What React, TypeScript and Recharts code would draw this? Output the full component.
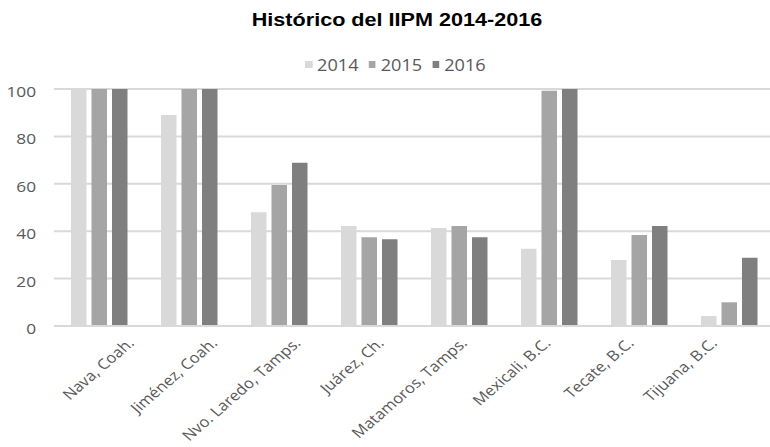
import { BarChart, Bar, XAxis, YAxis, CartesianGrid } from 'recharts';

const cities = [
    'Nava, Coah.',
    'Jiménez, Coah.',
    'Nvo. Laredo, Tamps.',
    'Juárez, Ch.',
    'Matamoros, Tamps.',
    'Mexicali, B.C.',
    'Tecate, B.C.',
    'Tijuana, B.C.'
];
const years = ['2014', '2015', '2016'];
const v2014 = [100, 89, 48, 42.2, 41.3, 32.6, 27.8, 4.2];
const v2015 = [100, 100, 59.5, 37.5, 42.2, 99.3, 38.4, 10];
const v2016 = [100, 100, 68.9, 36.6, 37.5, 100, 42.2, 28.8];
const yTicks = [0, 20, 40, 60, 80, 100];

const colors = ['#d9d9d9', '#a5a5a5', '#7f7f7f'];

const data = cities.map((name, i) => ({
    name,
    '2014': v2014[i],
    '2015': v2015[i],
    '2016': v2016[i]
}));

const textColor = '#595959';
const font = '"Open Sans", "Noto Sans", sans-serif';
// the reference is a bit stretched horizontally
const stretch = 1.15;

// rotated category label; labels drift a little left of their bars going right
function CityTick(props: any) {
    const { x, y, payload, index } = props;
    const i = index ?? payload.index ?? 0;
    const shift = 36 - 6.7 * i;
    return (
        <g transform={`translate(${x + shift},${y + 18}) scale(${stretch},1) rotate(-45)`}>
            <text textAnchor="end" fill={textColor} fontSize={14.5} fontFamily={font}>
                {payload.value}
            </text>
        </g>
    );
}

function ValueTick(props: any) {
    const { x, y, payload } = props;
    return (
        <g transform={`translate(${x},${y + 8}) scale(${stretch},1)`}>
            <text textAnchor="end" fill={textColor} fontSize={15} fontFamily={font}>
                {payload.value}
            </text>
        </g>
    );
}

function App() {
    return (
        <div style={{ position: 'absolute', left: 0, top: 0, width: 770, height: 447, overflow: 'hidden', background: '#fff' }}>
            <div style={{
                position: 'absolute',
                top: 11,
                left: 0,
                width: 794,
                textAlign: 'center',
                fontFamily: '"Liberation Sans", Arial, sans-serif',
                fontWeight: 700,
                fontSize: 18,
                lineHeight: '18px',
                color: '#000',
                transform: 'scaleX(1.2)',
                transformOrigin: '397px 0'
            }}>
                Histórico del IIPM 2014-2016
            </div>
            <div style={{
                position: 'absolute',
                top: 57,
                left: 305,
                display: 'flex',
                alignItems: 'center',
                fontFamily: font,
                fontSize: 16.5,
                lineHeight: '16.5px',
                color: textColor,
                transform: 'scaleX(1.1)',
                transformOrigin: '0 0',
                whiteSpace: 'nowrap'
            }}>
                {years.map((y, i) => (
                    <div key={y} style={{ display: 'flex', alignItems: 'center', marginRight: 9 }}>
                        <span style={{ width: 6.5, height: 7, background: colors[i], marginRight: 4.5, marginTop: -2 }} />
                        <span>{y}</span>
                    </div>
                ))}
            </div>
            <BarChart
                width={774}
                height={447}
                data={data}
                margin={{ top: 89, right: 0, bottom: 0, left: 0 }}
                barGap={5}
                barSize={15.5}
            >
                <CartesianGrid vertical={false} stroke="#d9d9d9" strokeWidth={2} />
                <XAxis
                    dataKey="name"
                    axisLine={{ stroke: '#d9d9d9', strokeWidth: 2 }}
                    tickLine={false}
                    tickSize={0}
                    tickMargin={0}
                    interval={0}
                    height={121}
                    tick={<CityTick />}
                />
                <YAxis
                    domain={[0, 100]}
                    ticks={yTicks}
                    width={54}
                    axisLine={false}
                    tickLine={false}
                    tickSize={0}
                    tickMargin={18}
                    tick={<ValueTick />}
                />
                {years.map((y, i) => (
                    <Bar key={y} dataKey={y} fill={colors[i]} isAnimationActive={false} />
                ))}
            </BarChart>
        </div>
    );
}

export default App;
